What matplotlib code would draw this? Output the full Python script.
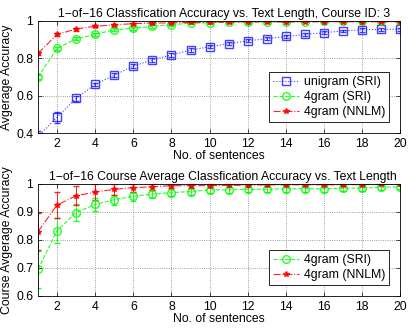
import matplotlib
matplotlib.use("Agg")
import matplotlib.pyplot as plt
import numpy as np

plt.rcParams['font.family'] = ['Liberation Sans', 'DejaVu Sans']

x = list(range(1, 21))

# Top panel: course ID 3
uni_sri = [0.38, 0.485, 0.586, 0.66, 0.71, 0.758, 0.792, 0.818, 0.844, 0.862,
           0.878, 0.894, 0.905, 0.917, 0.928, 0.937, 0.947, 0.953, 0.955, 0.955]
uni_sri_err = [0.03, 0.03, 0.012, 0.01, 0.01, 0.012, 0.01, 0.012, 0.01, 0.008,
               0.008, 0.008, 0.008, 0.007, 0.007, 0.007, 0.007, 0.01, 0.008, 0.01]
g4_sri = [0.70, 0.853, 0.905, 0.928, 0.953, 0.96, 0.972, 0.98, 0.988, 0.99,
          0.994, 0.995, 0.995, 0.996, 0.997, 0.998, 0.998, 0.998, 0.998, 0.998]
g4_sri_err = [0.01, 0.01, 0.008, 0.008, 0.008, 0.008, 0.007, 0.006, 0.005, 0.005,
              0.004, 0.004, 0.004, 0.003, 0.003, 0.003, 0.003, 0.003, 0.003, 0.003]
g4_nnlm = [0.826, 0.928, 0.957, 0.972, 0.979, 0.986, 0.989, 0.99, 0.992, 0.993,
           0.994, 0.995, 0.995, 0.995, 0.995, 0.996, 0.996, 0.996, 0.996, 0.996]
g4_nnlm_err = [0.01, 0.01, 0.008, 0.006, 0.006, 0.005, 0.005, 0.004, 0.004, 0.004,
               0.004, 0.003, 0.003, 0.003, 0.003, 0.003, 0.003, 0.003, 0.003, 0.003]

# Bottom panel: course average
avg_sri = [0.695, 0.833, 0.898, 0.927, 0.944, 0.956, 0.964, 0.969, 0.973, 0.979,
           0.979, 0.981, 0.981, 0.983, 0.983, 0.983, 0.985, 0.985, 0.988, 0.99]
avg_sri_err = [0.065, 0.045, 0.032, 0.022, 0.018, 0.016, 0.013, 0.012, 0.011, 0.01,
               0.01, 0.01, 0.01, 0.01, 0.01, 0.01, 0.009, 0.009, 0.008, 0.008]
avg_nnlm = [0.83, 0.925, 0.958, 0.971, 0.981, 0.987, 0.99, 0.994, 0.994, 0.994,
            0.995, 0.995, 0.997, 0.997, 0.997, 0.997, 0.997, 0.998, 1.0, 1.0]
avg_nnlm_err = [0.065, 0.048, 0.033, 0.03, 0.02, 0.014, 0.01, 0.008, 0.007, 0.006,
                0.006, 0.005, 0.005, 0.004, 0.004, 0.004, 0.004, 0.003, 0.003, 0.003]

fs = 8.8
fig = plt.figure(figsize=(4.13, 3.28), dpi=100)
ax1 = fig.add_axes([0.092, 0.5945, 0.877, 0.3415])
ax2 = fig.add_axes([0.092, 0.0976, 0.877, 0.3415])

blue = '#0000ff'
green = '#00ff00'
red = '#ff0000'

def style(ax):
    ax.set_xlim(1, 20)
    ax.set_xticks(range(2, 21, 2))
    ax.grid(True, linestyle=':', color='#808080', linewidth=0.6)
    ax.tick_params(direction='in', labelsize=fs, length=3, width=0.5, top=True, right=True)
    for s in ax.spines.values():
        s.set_linewidth(0.6)
    ax.set_xlabel('No. of sentences', fontsize=fs, labelpad=0)

def legend(ax, conts):
    handles = [c[0] for c in conts]
    labels = [c.get_label() for c in conts]
    lg = ax.legend(handles, labels, loc='lower right', fontsize=fs, fancybox=False,
                   framealpha=1, edgecolor='black', borderpad=0.3, handlelength=2.2,
                   handletextpad=0.4, labelspacing=0.25,
                   bbox_to_anchor=(0.987, 0.045))
    lg.get_frame().set_linewidth(0.6)

c1 = ax1.errorbar(x, uni_sri, yerr=uni_sri_err, color=blue, linestyle=':', marker='s',
                  markersize=5.5, markerfacecolor='none', linewidth=0.8, elinewidth=0.7,
                  capsize=2.5, alpha=0.75, label='unigram (SRI)')
c2 = ax1.errorbar(x, g4_sri, yerr=g4_sri_err, color=green, linestyle='--', marker='o',
                  markersize=5.5, markerfacecolor='none', linewidth=0.8, elinewidth=0.7,
                  capsize=2.5, alpha=0.85, label='4gram (SRI)')
c3 = ax1.errorbar(x, g4_nnlm, yerr=g4_nnlm_err, color=red, linestyle='-.', marker='*',
                  markersize=4, linewidth=0.8, elinewidth=0.7, capsize=2.5, alpha=0.85,
                  label='4gram (NNLM)')
ax1.set_ylim(0.4, 1.0)
ax1.set_yticks([0.4, 0.6, 0.8, 1.0])
ax1.set_yticklabels(['0.4', '0.6', '0.8', '1'])
style(ax1)
ax1.set_ylabel('Avgerage Accuracy', fontsize=fs, labelpad=2)
ax1.set_title('1\u2212of\u221216 Classfication Accuracy vs. Text Length, Course ID: 3',
              fontsize=fs, pad=3, x=0.515)
legend(ax1, [c1, c2, c3])

d1 = ax2.errorbar(x, avg_sri, yerr=avg_sri_err, color=green, linestyle='--', marker='o',
                  markersize=5.5, markerfacecolor='none', linewidth=0.8, elinewidth=0.7,
                  capsize=2.5, alpha=0.85, label='4gram (SRI)')
d2 = ax2.errorbar(x, avg_nnlm, yerr=avg_nnlm_err, color=red, linestyle='-.', marker='*',
                  markersize=4, linewidth=0.8, elinewidth=0.7, capsize=2.5, alpha=0.85,
                  label='4gram (NNLM)')
ax2.set_ylim(0.6, 1.0)
ax2.set_yticks([0.6, 0.7, 0.8, 0.9, 1.0])
ax2.set_yticklabels(['0.6', '0.7', '0.8', '0.9', '1'])
style(ax2)
ax2.set_ylabel('Course Avgerage Accuracy', fontsize=fs, labelpad=2)
ax2.set_title('1\u2212of\u221216 Course Average Classfication Accuracy vs. Text Length',
              fontsize=fs, pad=3, x=0.51)
legend(ax2, [d1, d2])

fig.savefig('out.png', dpi=100)
